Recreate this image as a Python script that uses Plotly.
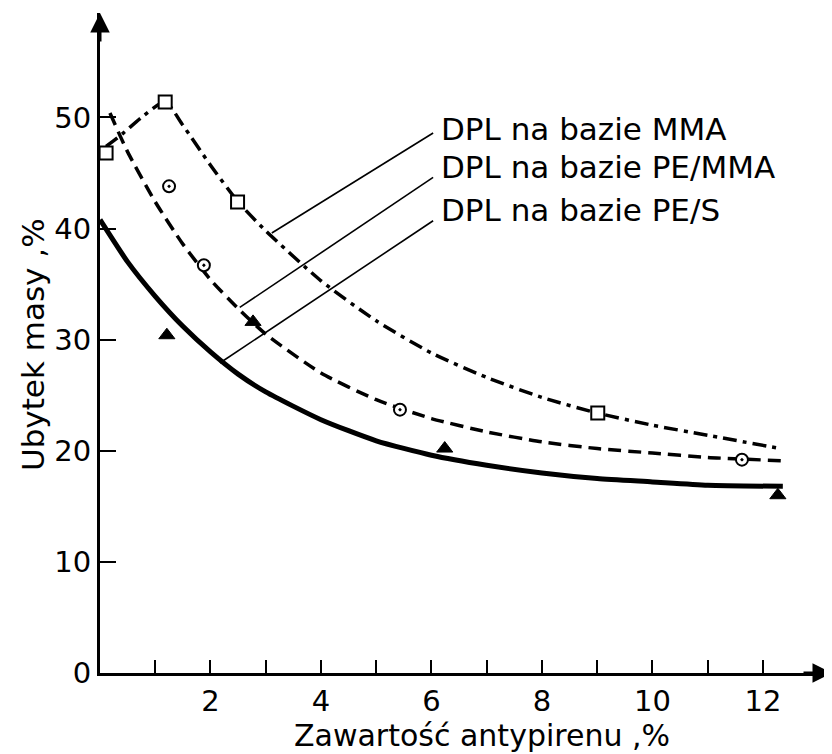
import plotly.graph_objects as go

# ---- data ----
# measured points
mma_x = [0.11, 1.18, 2.49, 9.01]
mma_y = [46.8, 51.4, 42.4, 23.4]
pemma_x = [1.25, 1.88, 5.43, 11.62]
pemma_y = [43.8, 36.7, 23.7, 19.2]
pes_x = [1.21, 2.77, 6.24, 12.27]
pes_y = [30.4, 31.6, 20.2, 16.0]

# fitted curves as drawn in the figure
mma_curve_x = [0.11, 0.4, 0.75, 1.18, 1.5, 2.0, 2.5, 3.0, 4.0, 5.0, 6.0, 7.0, 8.0, 9.0, 10.0, 11.0, 12.31]
mma_curve_y = [47.4, 48.5, 50.0, 51.4, 49.3, 45.7, 42.4, 39.8, 35.3, 31.7, 28.8, 26.6, 24.8, 23.4, 22.3, 21.4, 20.2]
pemma_curve_x = [0.18, 0.5, 1.0, 1.5, 2.0, 2.5, 3.0, 4.0, 5.0, 6.0, 7.0, 8.0, 9.0, 10.0, 11.0, 12.36]
pemma_curve_y = [50.4, 46.9, 42.4, 38.6, 35.4, 32.8, 30.5, 27.0, 24.6, 22.9, 21.7, 20.8, 20.2, 19.8, 19.4, 19.1]
pes_curve_x = [0.0, 0.5, 1.0, 1.5, 2.0, 2.5, 3.0, 4.0, 5.0, 6.0, 7.0, 8.0, 9.0, 10.0, 11.0, 12.36]
pes_curve_y = [40.8, 37.0, 33.9, 31.2, 28.9, 26.9, 25.3, 22.8, 20.9, 19.6, 18.7, 18.0, 17.5, 17.2, 16.9, 16.8]

# labels and leader lines (curve point -> label point)
labels = ["DPL na bazie MMA", "DPL na bazie PE/MMA", "DPL na bazie PE/S"]
label_x = [6.14, 6.14, 6.14]
label_y = [49.0, 45.5, 41.7]
leader_from_x = [3.11, 2.53, 2.17]
leader_from_y = [39.6, 32.9, 27.9]
leader_to_x = [6.03, 6.03, 6.03]
leader_to_y = [48.6, 44.6, 40.7]

x_ticks = [1, 2, 3, 4, 5, 6, 7, 8, 9, 10, 11, 12]
x_ticktext = ["", "2", "", "4", "", "6", "", "8", "", "10", "", "12"]
y_ticks = [0, 10, 20, 30, 40, 50]
y_ticktext = ["0", "10", "20", "30", "40", "50"]

x_title = "Zawartość antypirenu ,%"
y_title = "Ubytek masy ,%"

FONT = "DejaVu Sans"
BLACK = "black"

fig = go.Figure()

# curves
fig.add_trace(go.Scatter(x=mma_curve_x, y=mma_curve_y, mode="lines",
                         line=dict(color=BLACK, width=3.5, dash="14px,6px,4px,6px",
                                   shape="spline", smoothing=0.6),
                         hoverinfo="skip", showlegend=False))
fig.add_trace(go.Scatter(x=pemma_curve_x, y=pemma_curve_y, mode="lines",
                         line=dict(color=BLACK, width=3.5, dash="13px,7px",
                                   shape="spline", smoothing=0.6),
                         hoverinfo="skip", showlegend=False))
fig.add_trace(go.Scatter(x=pes_curve_x, y=pes_curve_y, mode="lines",
                         line=dict(color=BLACK, width=5, shape="spline", smoothing=0.6),
                         hoverinfo="skip", showlegend=False))

# markers
fig.add_trace(go.Scatter(x=mma_x, y=mma_y, mode="markers",
                         marker=dict(symbol="square", size=13, color="white",
                                     line=dict(color=BLACK, width=2)),
                         showlegend=False))
fig.add_trace(go.Scatter(x=pemma_x, y=pemma_y, mode="markers",
                         marker=dict(symbol="circle-dot", size=12, color="white",
                                     line=dict(color=BLACK, width=2)),
                         showlegend=False))
fig.add_trace(go.Scatter(x=pes_x, y=pes_y, mode="markers",
                         marker=dict(symbol="triangle-up", size=14, color=BLACK,
                                     line=dict(color=BLACK, width=1)),
                         showlegend=False))

# leader lines
for fx, fy, tx, ty in zip(leader_from_x, leader_from_y, leader_to_x, leader_to_y):
    fig.add_trace(go.Scatter(x=[fx, tx], y=[fy, ty], mode="lines",
                             line=dict(color=BLACK, width=1.6),
                             hoverinfo="skip", showlegend=False))

annotations = []
for t, lx, ly in zip(labels, label_x, label_y):
    annotations.append(dict(x=lx, y=ly, xref="x", yref="y", text=t, showarrow=False,
                            xanchor="left", yanchor="middle",
                            font=dict(family=FONT, size=31, color=BLACK)))

# axis arrows
annotations.append(dict(x=13.25, y=0, xref="x", yref="y", ax=-30, ay=0, text="",
                        showarrow=True, arrowhead=2, arrowsize=1.3, arrowwidth=3,
                        arrowcolor=BLACK))
annotations.append(dict(x=0, y=59.4, xref="x", yref="y", ax=0, ay=30, text="",
                        showarrow=True, arrowhead=2, arrowsize=1.3, arrowwidth=3,
                        arrowcolor=BLACK))

# axis titles
annotations.append(dict(x=0.522, y=-0.094, xref="paper", yref="paper", text=x_title,
                        showarrow=False, xanchor="center", yanchor="middle",
                        font=dict(family=FONT, size=30, color=BLACK)))
annotations.append(dict(x=-0.0915, y=0.497, xref="paper", yref="paper", text=y_title,
                        showarrow=False, xanchor="center", yanchor="middle", textangle=-90,
                        font=dict(family=FONT, size=31, color=BLACK)))

fig.update_layout(
    width=832, height=754,
    margin=dict(l=92, r=8, t=5, b=89),
    paper_bgcolor="white", plot_bgcolor="white",
    font=dict(family=FONT, color=BLACK),
    annotations=annotations,
    xaxis=dict(range=[0, 13.25], showgrid=False, zeroline=False,
               showline=True, linecolor=BLACK, linewidth=3,
               tickmode="array", tickvals=x_ticks, ticktext=x_ticktext,
               ticks="inside", ticklen=13, tickwidth=2, tickcolor=BLACK,
               tickfont=dict(family=FONT, size=29, color=BLACK)),
    yaxis=dict(range=[0, 59.4], showgrid=False, zeroline=False,
               showline=True, linecolor=BLACK, linewidth=3,
               tickmode="array", tickvals=y_ticks, ticktext=y_ticktext,
               ticks="inside", ticklen=16, tickwidth=2, tickcolor=BLACK,
               tickfont=dict(family=FONT, size=29, color=BLACK)),
)

fig.write_html("out.html")
